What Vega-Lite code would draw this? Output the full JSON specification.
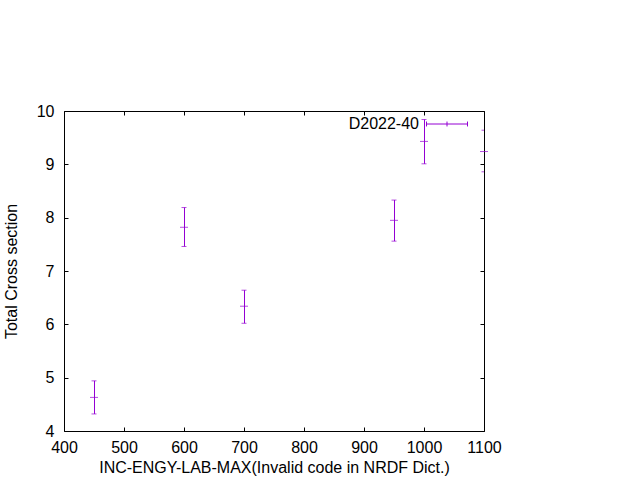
{
  "$schema": "https://vega.github.io/schema/vega-lite/v6.json",
  "width": 420,
  "height": 320,
  "autosize": {"type": "none"},
  "padding": {"left": 64, "top": 111, "right": 156, "bottom": 49},
  "background": "white",
  "config": {
    "font": "Liberation Sans",
    "view": {"stroke": "black", "strokeWidth": 1},
    "axis": {
      "domain": false,
      "grid": false,
      "tickColor": "black",
      "tickSize": -4,
      "format": "d",
      "labelFlush": false,
      "labelOverlap": false,
      "labelFont": "Liberation Sans",
      "labelFontSize": 16,
      "labelColor": "black",
      "titleFont": "Liberation Sans",
      "titleFontSize": 16,
      "titleFontWeight": "normal",
      "titleColor": "black"
    },
    "legend": {"padding": 0}
  },
  "data": {
    "values": [
      {"energy": 450, "xs": 4.63, "lo": 4.32, "hi": 4.94, "series": "D2022-40"},
      {"energy": 600, "xs": 7.82, "lo": 7.46, "hi": 8.19, "series": "D2022-40"},
      {"energy": 700, "xs": 6.34, "lo": 6.02, "hi": 6.64, "series": "D2022-40"},
      {"energy": 950, "xs": 7.95, "lo": 7.56, "hi": 8.33, "series": "D2022-40"},
      {"energy": 1000, "xs": 9.43, "lo": 9.01, "hi": 9.84, "series": "D2022-40"},
      {"energy": 1100, "xs": 9.24, "lo": 8.86, "hi": 9.64, "series": "D2022-40"}
    ]
  },
  "layer": [
    {
      "mark": {"type": "rule", "strokeWidth": 1, "xOffset": 0.5, "clip": true},
      "encoding": {
        "x": {"field": "energy", "type": "quantitative", "scale": {"domain": [400, 1100], "nice": false, "zero": false},
              "axis": {"orient": "bottom", "values": [400, 500, 600, 700, 800, 900, 1000, 1100], "labelPadding": 12, "titlePadding": 4,
                       "title": "INC-ENGY-LAB-MAX(Invalid code in NRDF Dict.)"}},
        "y": {"field": "lo", "type": "quantitative", "scale": {"domain": [4, 10], "nice": false, "zero": false},
              "axis": {"orient": "left", "values": [4, 5, 6, 7, 8, 9, 10], "labelPadding": 14, "titlePadding": 17, "title": "Total Cross section"}},
        "y2": {"field": "hi"},
        "color": {
          "field": "series", "type": "nominal",
          "scale": {"range": ["#9400d3"]},
          "legend": {
            "title": null,
            "orient": "none",
            "legendX": 362,
            "legendY": -8,
            "symbolType": "M-1,0H1M-1,-0.12V0.12M1,-0.12V0.12M0,-0.12V0.12",
            "symbolSize": 1681,
            "symbolStrokeWidth": 1,
            "symbolFillColor": "transparent",
            "symbolStrokeColor": "#9400d3",
            "labelAlign": "right",
            "labelOffset": -49,
            "labelFont": "Liberation Sans",
            "labelFontSize": 16,
            "labelColor": "black"
          }
        }
      }
    },
    {
      "mark": {"type": "tick", "orient": "horizontal", "size": 5, "thickness": 1, "color": "#9400d3", "clip": true},
      "encoding": {
        "x": {"field": "energy", "type": "quantitative", "axis": {"orient": "top", "labels": false, "title": null, "values": [400, 500, 600, 700, 800, 900, 1000, 1100]}},
        "y": {"field": "lo", "type": "quantitative", "axis": {"orient": "right", "labels": false, "title": null, "values": [4, 5, 6, 7, 8, 9, 10]}}
      }
    },
    {
      "mark": {"type": "tick", "orient": "horizontal", "size": 5, "thickness": 1, "color": "#9400d3", "clip": true},
      "encoding": {
        "x": {"field": "energy", "type": "quantitative", "axis": null},
        "y": {"field": "hi", "type": "quantitative", "axis": null}
      }
    },
    {
      "mark": {"type": "tick", "orient": "horizontal", "size": 8, "thickness": 1, "color": "#9400d3"},
      "encoding": {
        "x": {"field": "energy", "type": "quantitative", "axis": null},
        "y": {"field": "xs", "type": "quantitative", "axis": null}
      }
    }
  ]
}
